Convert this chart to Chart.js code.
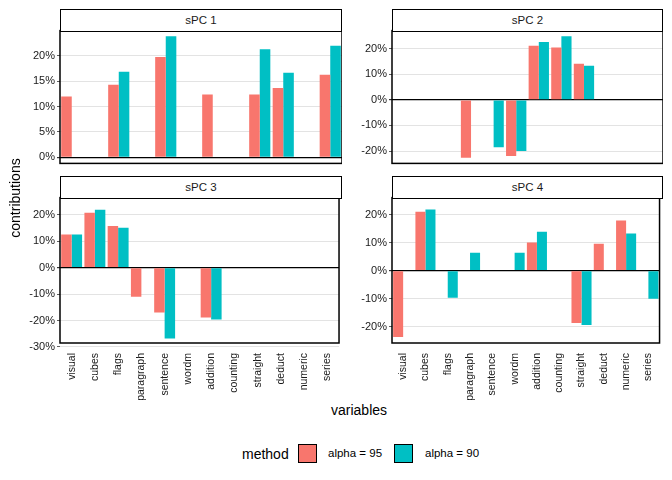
<!DOCTYPE html><html><head><meta charset="utf-8">
<script src="https://cdn.jsdelivr.net/npm/chart.js@4"></script>
<style>
body{margin:0;width:672px;height:480px;background:#fff;font-family:"Liberation Sans",Arial,sans-serif;position:relative;overflow:hidden}
canvas{position:absolute}
.strip{position:absolute;border:1.5px solid #000;background:#fff;text-align:center;font-size:11.5px;line-height:20px;box-sizing:border-box;color:#1a1a1a;z-index:2}
.t{position:absolute;font-size:14px;color:#000}
.sq{position:absolute;width:19px;height:19px;border:1.5px solid #000;box-sizing:border-box}
</style></head><body>
<canvas id="c1" style="left:10px;top:22px"></canvas>
<canvas id="c2" style="left:342px;top:22px"></canvas>
<canvas id="c3" style="left:10px;top:189px"></canvas>
<canvas id="c4" style="left:342px;top:189px"></canvas>
<div class="strip" style="left:60px;top:9px;width:282px;height:23px">sPC 1</div>
<div class="strip" style="left:392px;top:9px;width:271px;height:23px">sPC 2</div>
<div class="strip" style="left:60px;top:176px;width:282px;height:23px">sPC 3</div>
<div class="strip" style="left:392px;top:176px;width:271px;height:23px">sPC 4</div>
<div class="t" style="left:331px;top:402px">variables</div>
<div class="t" style="left:-30px;top:190px;transform:rotate(-90deg);width:90px;text-align:center">contributions</div>
<div class="t" style="left:242px;top:446px">method</div>
<div class="sq" style="left:298px;top:444px;background:#F8766D"></div>
<div class="t" style="left:328px;top:447px;font-size:11.5px">alpha = 95</div>
<div class="sq" style="left:394px;top:444px;background:#00BFC4"></div>
<div class="t" style="left:425px;top:447px;font-size:11.5px">alpha = 90</div>
<script>
const categories=["visual","cubes","flags","paragraph","sentence","wordm","addition","counting","straight","deduct","numeric","series"];
const pc1_a95=[12,null,14.3,null,19.8,null,12.4,null,12.4,13.7,null,16.3];
const pc1_a90=[null,null,16.9,null,23.9,null,null,null,21.3,16.7,null,22];
const pc2_a95=[null,null,null,-22.6,null,-21.9,21.1,20.4,14.1,null,null,null];
const pc2_a90=[null,null,null,null,-18.5,-20,22.6,24.8,13.3,null,null,null];
const pc3_a95=[12.5,20.8,15.8,-11,-17,null,-18.9,null,null,null,null,null];
const pc3_a90=[12.5,21.9,15.1,null,-26.8,null,-19.6,null,null,null,null,null];
const pc4_a95=[-23.6,21,null,null,null,null,10,null,-18.6,9.6,17.9,null];
const pc4_a90=[null,21.8,-9.6,6.4,null,6.4,13.9,null,-19.3,null,13.2,-10];
const ticks1=[0,5,10,15,20], ticks2=[-20,-10,0,10,20], ticks3=[-30,-20,-10,0,10,20], ticks4=[-20,-10,0,10,20];
const border={id:'b',afterDraw(c){const a=c.chartArea,x=c.ctx;x.save();x.strokeStyle='#000';x.lineWidth=1.5;x.strokeRect(a.left,a.top,a.right-a.left,a.bottom-a.top);x.restore();}};
function make(id,w,h,r,b,ticks,min,max,showX,yw){
  const cv=document.getElementById(id);cv.width=w;cv.height=h;cv.style.width=w+'px';cv.style.height=h+'px';
  new Chart(cv,{type:'bar',data:{labels:categories,datasets:[
    {label:'alpha = 95',data:r,backgroundColor:'#F8766D'},
    {label:'alpha = 90',data:b,backgroundColor:'#00BFC4'}]},
   options:{responsive:false,animation:false,layout:{padding:0},
    datasets:{bar:{categoryPercentage:0.9,barPercentage:1}},
    plugins:{legend:{display:false},tooltip:{enabled:false}},
    scales:{
     x:{display:showX,grid:{display:false},border:{display:false},
        ticks:{color:'#1a1a1a',font:{family:'Liberation Sans',size:10.5},maxRotation:90,minRotation:90,padding:2},
        afterFit(s){if(showX)s.height=58;}},
     y:{min:min,max:max,afterBuildTicks(s){s.ticks=ticks.map(v=>({value:v}));},
        afterFit(s){s.width=yw;},
        border:{display:false},
        grid:{color:c=>c.tick&&c.tick.value===0?'#000':'#dcdcdc',lineWidth:c=>c.tick&&c.tick.value===0?1.2:0.8,drawTicks:true,tickLength:3,tickColor:'#333'},
        ticks:{color:'#1a1a1a',font:{family:'Liberation Sans',size:11},padding:2,callback:v=>v+'%'}}}},
   plugins:[border]});
}
make('c1',332,150,pc1_a95,pc1_a90,ticks1,-1.2,25,false,50);
make('c2',321,150,pc2_a95,pc2_a90,ticks2,-24.8,27,false,50);
make('c3',332,212,pc3_a95,pc3_a90,ticks3,-28.5,26.5,true,50);
make('c4',321,212,pc4_a95,pc4_a90,ticks4,-25.7,26,true,50);
</script></body></html>
